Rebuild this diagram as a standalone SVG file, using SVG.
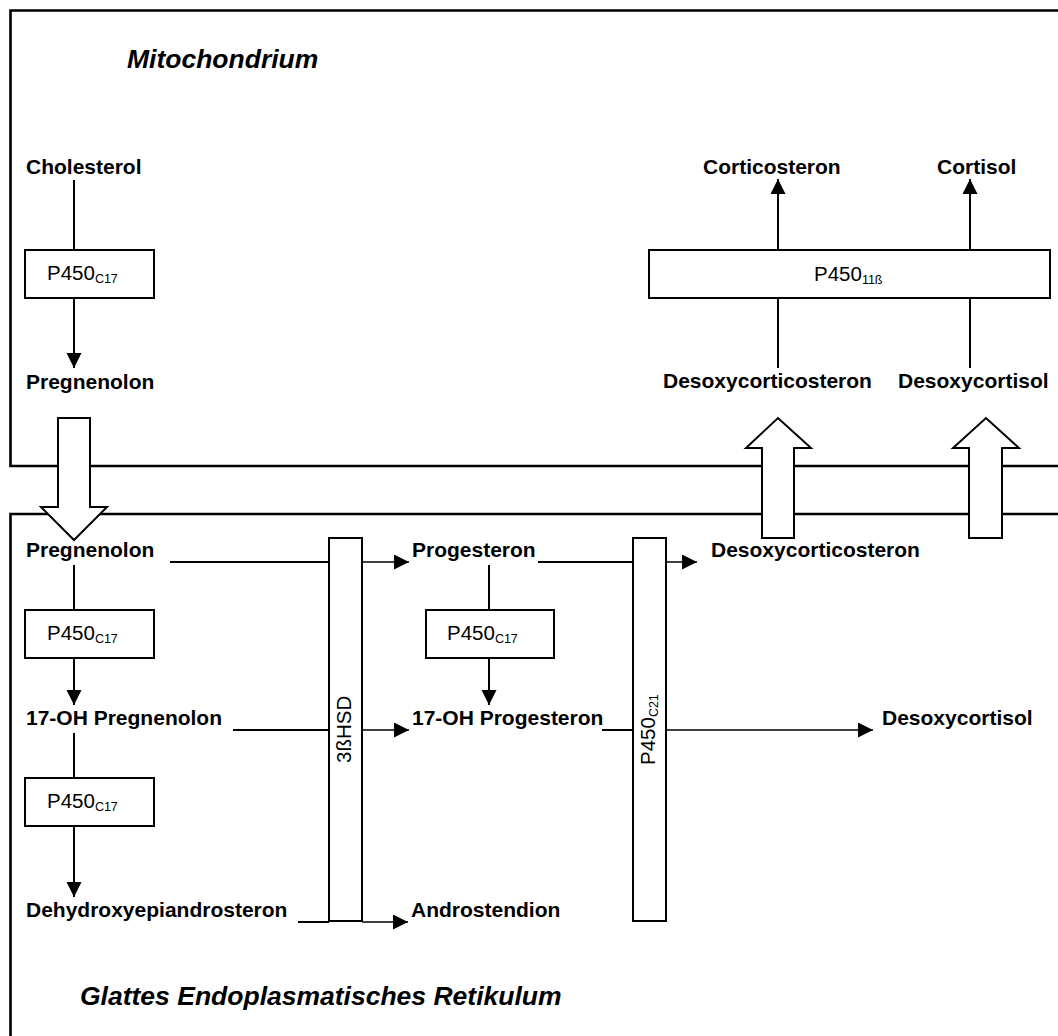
<svg xmlns="http://www.w3.org/2000/svg" width="1058" height="1036" viewBox="0 0 1058 1036">
<style>
.lbl{font-family:"Liberation Sans",Arial,sans-serif;font-size:21px;font-weight:bold;fill:#000}
.ttl{font-family:"Liberation Sans",Arial,sans-serif;font-size:26.5px;font-weight:bold;font-style:italic;fill:#000}
.enz{font-family:"Liberation Sans",Arial,sans-serif;font-size:20.5px;fill:#000}
.sub{font-size:12.5px}
.box{fill:#fff;stroke:#000;stroke-width:2}
.comp{fill:none;stroke:#000;stroke-width:2.6}
.ln{fill:none;stroke:#000;stroke-width:2}
.ln2{fill:none;stroke:#000;stroke-width:1.5}
.big{fill:#fff;stroke:#000;stroke-width:2}
</style>
<defs>
<marker id="ah" markerUnits="userSpaceOnUse" markerWidth="16" markerHeight="16" refX="15" refY="7.5" orient="auto" viewBox="0 0 16 16">
<path d="M0,0 L15,7.5 L0,15 z" fill="#000"/>
</marker>
</defs>
<g id="compartments">
<path class="comp" d="M1062,10.5 H10.5 V466 H1062"/>
<path class="comp" d="M1062,514 H10.5 V1040"/>
<text class="ttl" x="127" y="68">Mitochondrium</text>
<text class="ttl" x="80" y="1005">Glattes Endoplasmatisches Retikulum</text>
</g>
<g id="connectors">
<line class="ln" x1="74" y1="180" x2="74" y2="250"/>
<line class="ln" x1="74" y1="298" x2="74" y2="368" marker-end="url(#ah)"/>
<line class="ln" x1="778" y1="250" x2="778" y2="179" marker-end="url(#ah)"/>
<line class="ln" x1="970" y1="250" x2="970" y2="179" marker-end="url(#ah)"/>
<line class="ln" x1="778" y1="298" x2="778" y2="368"/>
<line class="ln" x1="970" y1="298" x2="970" y2="368"/>
<line class="ln" x1="170" y1="562" x2="329" y2="562"/>
<line class="ln2" x1="362" y1="562" x2="409" y2="562" marker-end="url(#ah)"/>
<line class="ln" x1="538" y1="562" x2="633" y2="562"/>
<line class="ln2" x1="666" y1="562" x2="697" y2="562" marker-end="url(#ah)"/>
<line class="ln" x1="74" y1="565" x2="74" y2="610"/>
<line class="ln" x1="74" y1="658" x2="74" y2="705" marker-end="url(#ah)"/>
<line class="ln" x1="489" y1="565" x2="489" y2="610"/>
<line class="ln" x1="489" y1="658" x2="489" y2="705" marker-end="url(#ah)"/>
<line class="ln" x1="233" y1="730" x2="329" y2="730"/>
<line class="ln2" x1="362" y1="730" x2="409" y2="730" marker-end="url(#ah)"/>
<line class="ln" x1="602" y1="730" x2="633" y2="730"/>
<line class="ln2" x1="666" y1="730" x2="873" y2="730" marker-end="url(#ah)"/>
<line class="ln" x1="74" y1="733" x2="74" y2="778"/>
<line class="ln" x1="74" y1="826" x2="74" y2="897" marker-end="url(#ah)"/>
<line class="ln" x1="298" y1="922" x2="329" y2="922"/>
<line class="ln2" x1="362" y1="922" x2="408" y2="922" marker-end="url(#ah)"/>
</g>
<g id="transport-arrows">
<polygon class="big" points="58,418 90,418 90,507 107,507 74,540 41,507 58,507"/>
<polygon class="big" points="762,538 794,538 794,448 811,448 778,418 746,448 762,448"/>
<polygon class="big" points="969,538 1002,538 1002,448 1019,448 986,418 953,448 969,448"/>
</g>
<g id="cholesterol"><text class="lbl" x="26" y="174">Cholesterol</text></g>
<g id="p450c17-mito"><rect class="box" x="25" y="250" width="129" height="48"/><text class="enz" x="47" y="280">P450<tspan class="sub" dy="3">C17</tspan></text></g>
<g id="pregnenolon-mito"><text class="lbl" x="26" y="389">Pregnenolon</text></g>
<g id="corticosteron"><text class="lbl" x="703" y="174">Corticosteron</text></g>
<g id="cortisol"><text class="lbl" x="937" y="174">Cortisol</text></g>
<g id="p450-11b"><rect class="box" x="649" y="250" width="401" height="48"/><text class="enz" x="814" y="281">P450<tspan class="sub" dy="3">11ß</tspan></text></g>
<g id="desoxycorticosteron-mito"><text class="lbl" x="663" y="388">Desoxycorticosteron</text></g>
<g id="desoxycortisol-mito"><text class="lbl" x="898" y="388">Desoxycortisol</text></g>
<g id="pregnenolon-er"><text class="lbl" x="26" y="557">Pregnenolon</text></g>
<g id="p450c17-er1"><rect class="box" x="25" y="610" width="129" height="48"/><text class="enz" x="47" y="640">P450<tspan class="sub" dy="3">C17</tspan></text></g>
<g id="oh-pregnenolon"><text class="lbl" x="26" y="725">17-OH Pregnenolon</text></g>
<g id="p450c17-er2"><rect class="box" x="25" y="778" width="129" height="48"/><text class="enz" x="47" y="808">P450<tspan class="sub" dy="3">C17</tspan></text></g>
<g id="dhea"><text class="lbl" x="26" y="917">Dehydroxyepiandrosteron</text></g>
<g id="hsd3b"><rect class="box" x="329" y="538" width="33" height="383"/><text class="enz" transform="translate(351,763) rotate(-90)">3ßHSD</text></g>
<g id="progesteron"><text class="lbl" x="412" y="557">Progesteron</text></g>
<g id="p450c17-er3"><rect class="box" x="426" y="610" width="128" height="48"/><text class="enz" x="447" y="640">P450<tspan class="sub" dy="3">C17</tspan></text></g>
<g id="oh-progesteron"><text class="lbl" x="412" y="725">17-OH Progesteron</text></g>
<g id="androstendion"><text class="lbl" x="411" y="917">Androstendion</text></g>
<g id="p450c21"><rect class="box" x="633" y="538" width="33" height="383"/><text class="enz" transform="translate(655,765) rotate(-90)">P450<tspan class="sub" dy="3">C21</tspan></text></g>
<g id="desoxycorticosteron-er"><text class="lbl" x="711" y="557">Desoxycorticosteron</text></g>
<g id="desoxycortisol-er"><text class="lbl" x="882" y="725">Desoxycortisol</text></g>
</svg>
